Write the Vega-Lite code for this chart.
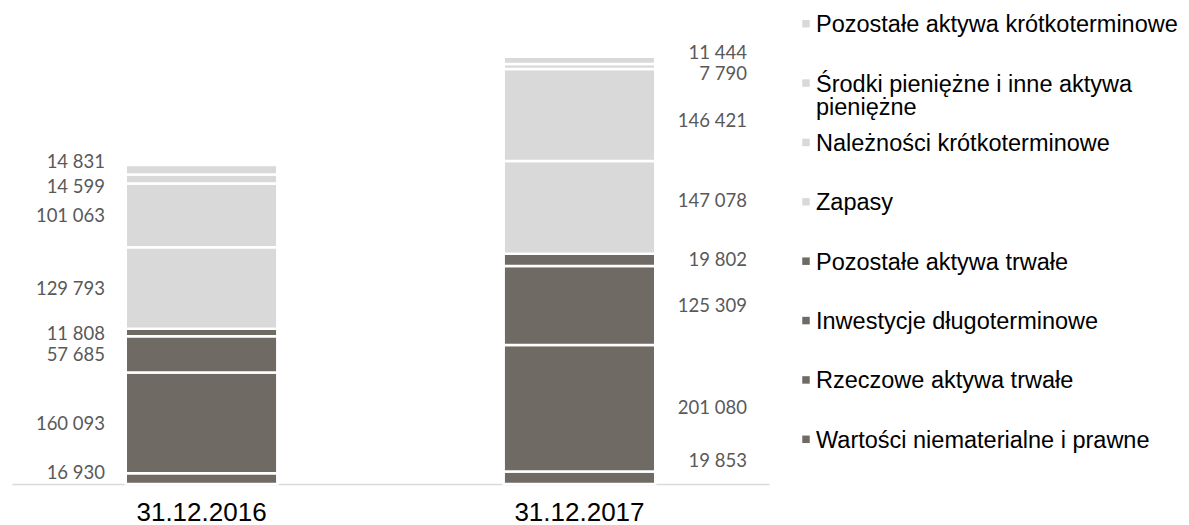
{
  "$schema": "https://vega.github.io/schema/vega-lite/v6.json",
  "padding": {"left": 12, "top": 12, "right": 0, "bottom": 0},
  "bounds": "flush",
  "spacing": 32,
  "config": {
    "view": {"stroke": null},
    "locale": {"number": {"decimal": ",", "thousands": " ", "grouping": [3], "currency": ["", " zł"]}}
  },
  "datasets": {
    "assets": [
      {"date": "31.12.2016", "category": "Wartości niematerialne i prawne", "group": "Aktywa trwałe", "order": 1, "value": 16930},
      {"date": "31.12.2016", "category": "Rzeczowe aktywa trwałe", "group": "Aktywa trwałe", "order": 2, "value": 160093},
      {"date": "31.12.2016", "category": "Inwestycje długoterminowe", "group": "Aktywa trwałe", "order": 3, "value": 57685},
      {"date": "31.12.2016", "category": "Pozostałe aktywa trwałe", "group": "Aktywa trwałe", "order": 4, "value": 11808},
      {"date": "31.12.2016", "category": "Zapasy", "group": "Aktywa obrotowe", "order": 5, "value": 129793},
      {"date": "31.12.2016", "category": "Należności krótkoterminowe", "group": "Aktywa obrotowe", "order": 6, "value": 101063},
      {"date": "31.12.2016", "category": "Środki pieniężne i inne aktywa pieniężne", "group": "Aktywa obrotowe", "order": 7, "value": 14599},
      {"date": "31.12.2016", "category": "Pozostałe aktywa krótkoterminowe", "group": "Aktywa obrotowe", "order": 8, "value": 14831},
      {"date": "31.12.2017", "category": "Wartości niematerialne i prawne", "group": "Aktywa trwałe", "order": 1, "value": 19853},
      {"date": "31.12.2017", "category": "Rzeczowe aktywa trwałe", "group": "Aktywa trwałe", "order": 2, "value": 201080},
      {"date": "31.12.2017", "category": "Inwestycje długoterminowe", "group": "Aktywa trwałe", "order": 3, "value": 125309},
      {"date": "31.12.2017", "category": "Pozostałe aktywa trwałe", "group": "Aktywa trwałe", "order": 4, "value": 19802},
      {"date": "31.12.2017", "category": "Zapasy", "group": "Aktywa obrotowe", "order": 5, "value": 147078},
      {"date": "31.12.2017", "category": "Należności krótkoterminowe", "group": "Aktywa obrotowe", "order": 6, "value": 146421},
      {"date": "31.12.2017", "category": "Środki pieniężne i inne aktywa pieniężne", "group": "Aktywa obrotowe", "order": 7, "value": 7790},
      {"date": "31.12.2017", "category": "Pozostałe aktywa krótkoterminowe", "group": "Aktywa obrotowe", "order": 8, "value": 11444}
    ]
  },
  "hconcat": [
    {
      "width": 757,
      "height": 472,
      "data": {"name": "assets"},
      "layer": [
        {
          "mark": {"type": "bar", "stroke": "white", "strokeWidth": 2.5},
          "encoding": {
            "x": {
              "field": "date", "type": "nominal",
              "scale": {"paddingInner": 0.599, "paddingOuter": 0.301},
              "axis": {
                "title": null, "labelAngle": 0, "ticks": false, "grid": false,
                "domainColor": "#d9d9d9", "domainWidth": 1.5,
                "labelFont": "Liberation Sans", "labelFontSize": 26, "labelColor": "#000000",
                "labelPadding": 15
              }
            },
            "y": {
              "field": "value", "type": "quantitative", "stack": "zero",
              "scale": {"domain": [0, 750000], "nice": false}, "axis": null
            },
            "color": {
              "field": "group", "type": "nominal",
              "scale": {"domain": ["Aktywa trwałe", "Aktywa obrotowe"], "range": ["#6f6a64", "#d9d9d9"]},
              "legend": null
            },
            "order": {"field": "order", "type": "quantitative", "sort": "ascending"}
          }
        },
        {
          "transform": [
            {"stack": "value", "groupby": ["date"], "sort": [{"field": "order", "order": "ascending"}], "as": ["v0", "v1"]},
            {"calculate": "(datum.v0 + datum.v1) / 2", "as": "mid"}
          ],
          "mark": {
            "type": "text", "font": "Lato", "fontSize": 18.5, "color": "#595959",
            "align": "right", "baseline": "middle",
            "dx": {"expr": "datum.date == '31.12.2016' ? -96.5 : 167.5"},
            "dy": {"expr": "datum.date == '31.12.2016' ? (datum.order == 8 ? -8 : datum.order == 7 ? 8 : datum.order == 1 ? -6 : 1) : (datum.order == 8 ? -7 : datum.order == 7 ? 8 : datum.order == 6 ? 6 : datum.order == 5 ? -6 : datum.order == 1 ? -17 : 0)"}
          },
          "encoding": {
            "x": {"field": "date", "type": "nominal"},
            "y": {"field": "mid", "type": "quantitative"},
            "text": {"field": "value", "type": "quantitative", "format": ",d"}
          }
        }
      ]
    },
    {
      "width": 10,
      "height": 439,
      "data": {"name": "assets"},
      "transform": [
        {"filter": "datum.date == '31.12.2016'"},
        {"calculate": "datum.category == 'Środki pieniężne i inne aktywa pieniężne' ? ['Środki pieniężne i inne aktywa', 'pieniężne'] : datum.category == 'Rzeczowe aktywa trwałe' ? '\u00a0Rzeczowe aktywa trwałe' : datum.category", "as": "label"}
      ],
      "layer": [
        {
          "mark": {"type": "point", "shape": "square", "filled": true, "size": 56, "opacity": 1},
          "encoding": {
            "y": {
              "field": "category", "type": "nominal",
              "sort": {"field": "order", "order": "descending"},
              "scale": {"type": "point", "padding": 0.197}, "axis": null
            },
            "color": {"field": "group", "type": "nominal", "legend": null}
          }
        },
        {
          "mark": {
            "type": "text", "align": "left", "baseline": "alphabetic",
            "dx": 10, "dy": 8.5, "font": "Liberation Sans", "fontSize": 23.5,
            "lineHeight": 23, "color": "#000000"
          },
          "encoding": {
            "y": {
              "field": "category", "type": "nominal",
              "sort": {"field": "order", "order": "descending"}
            },
            "text": {"field": "label", "type": "nominal"}
          }
        }
      ]
    }
  ]
}
